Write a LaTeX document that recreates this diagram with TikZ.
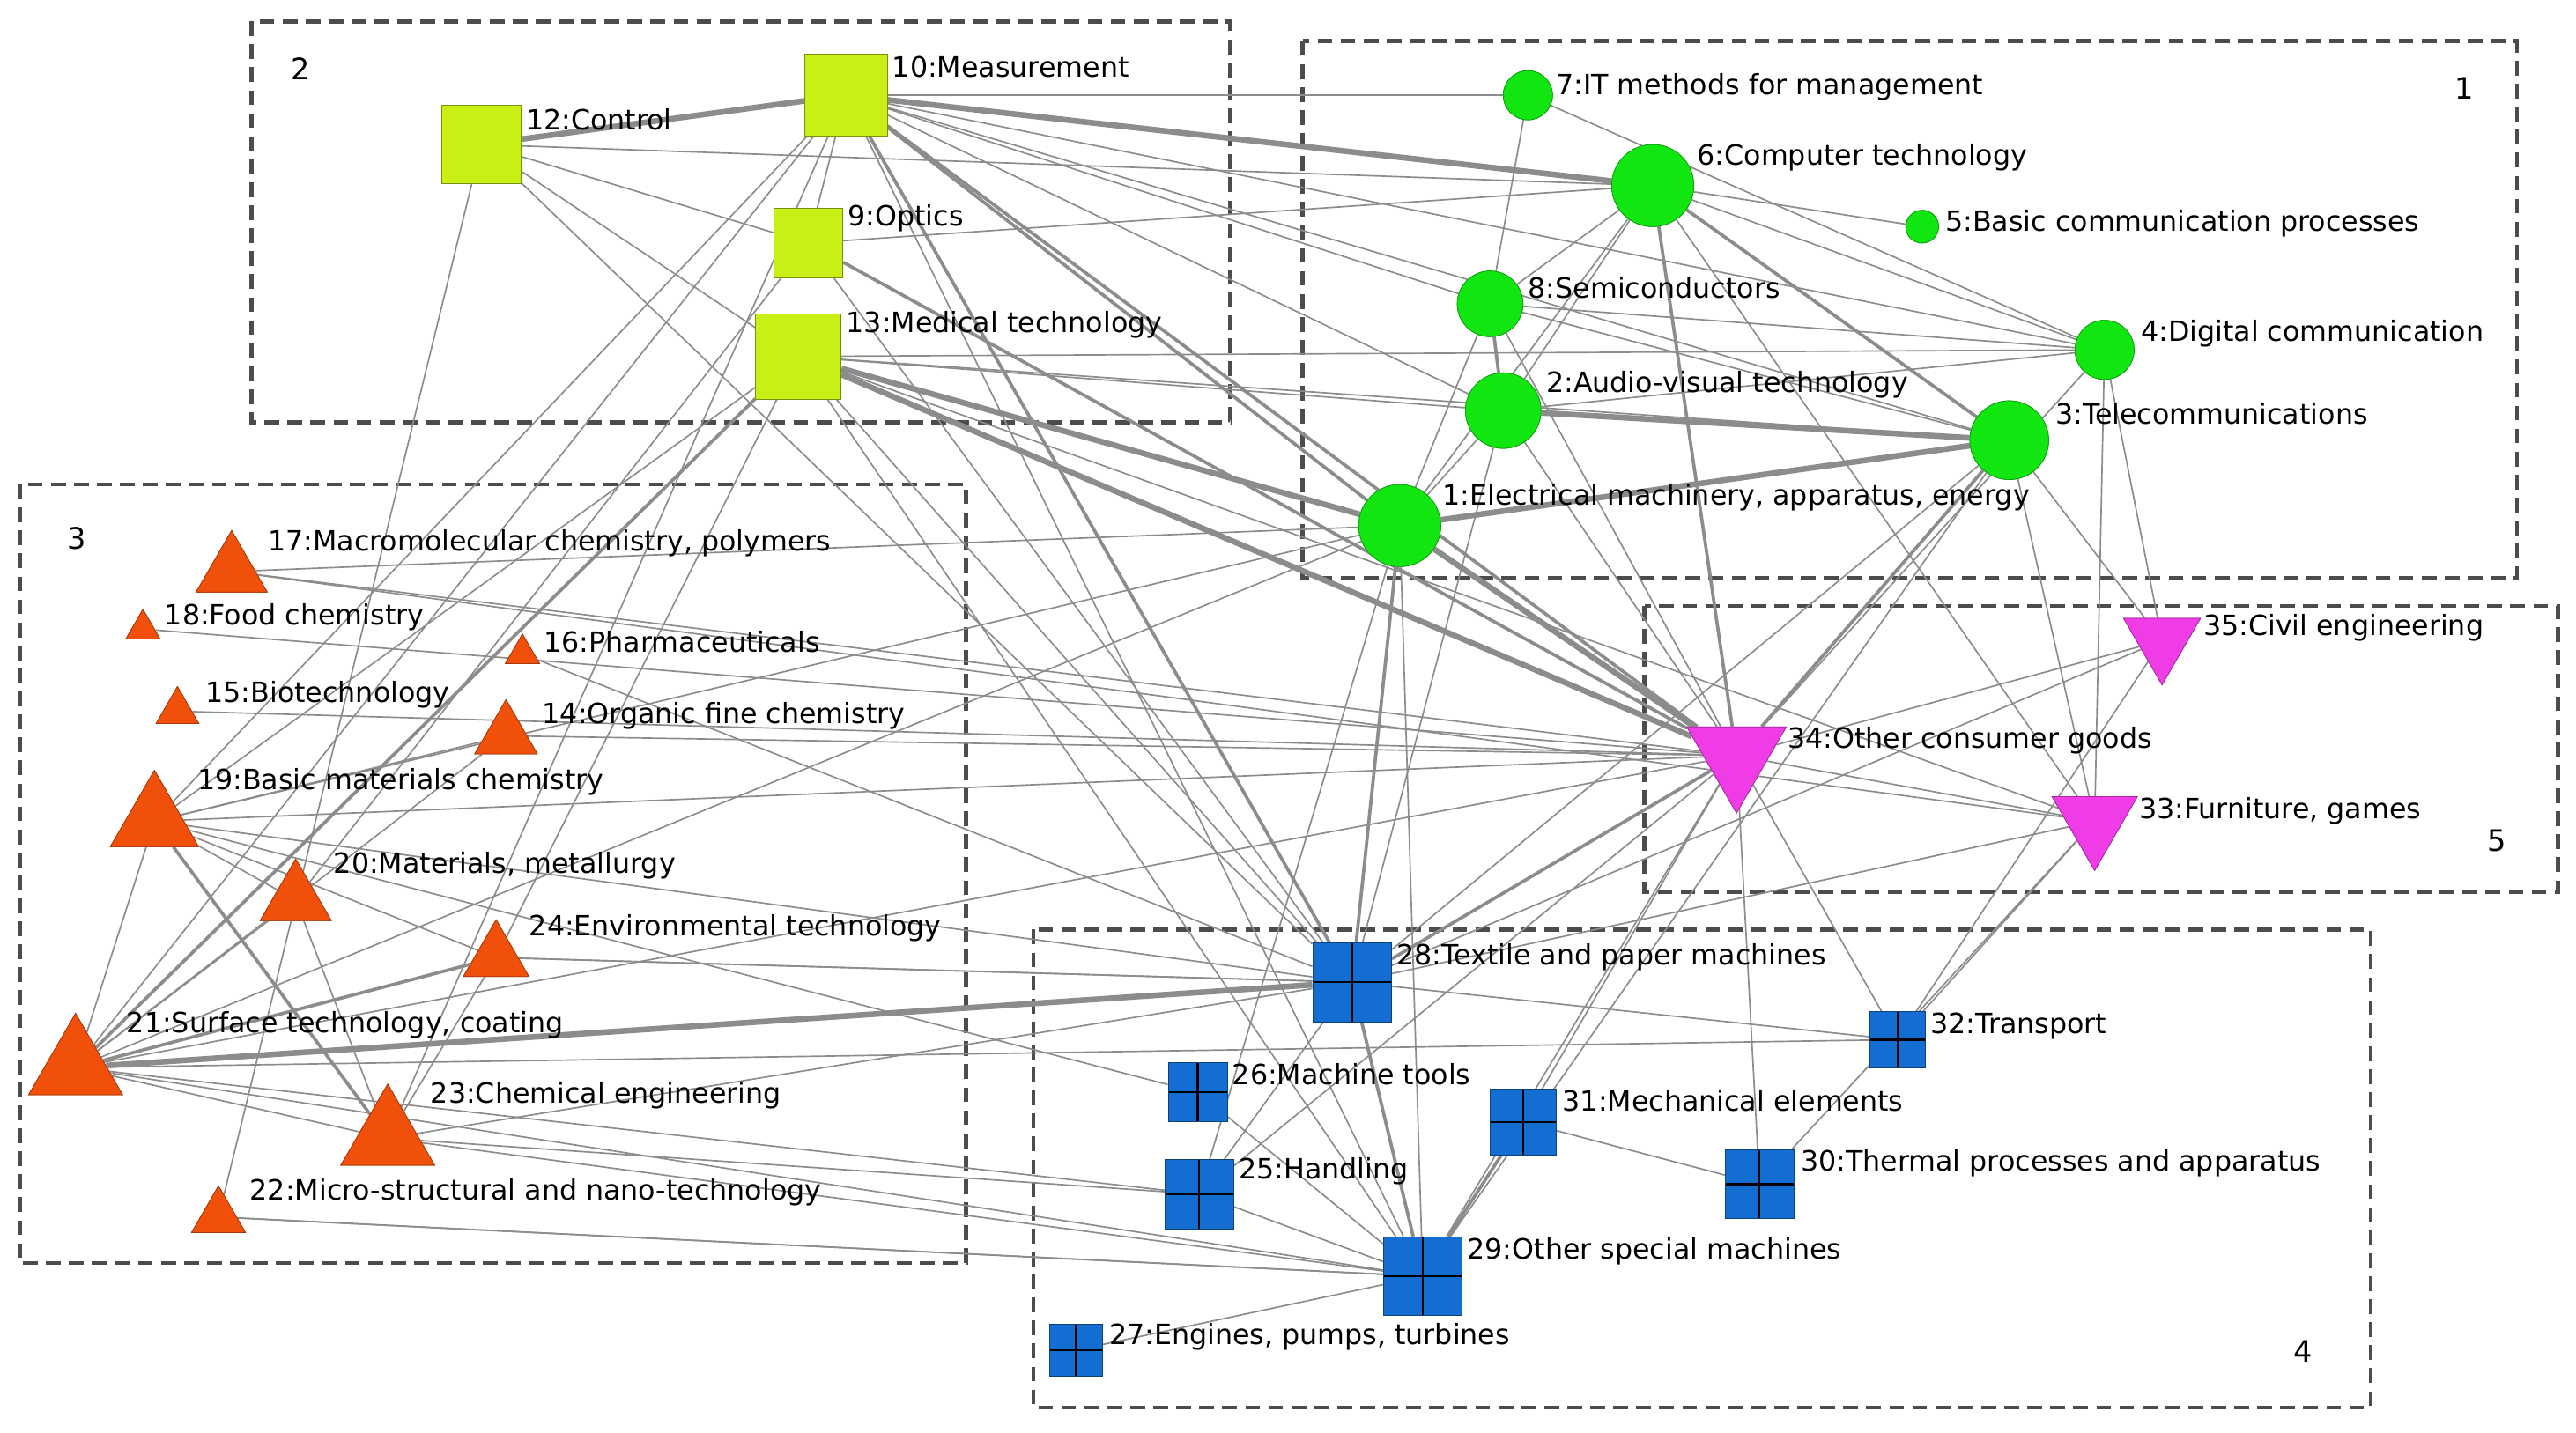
\documentclass[tikz,border=0pt]{standalone}
\usepackage{fontspec}
\setmainfont{DejaVu Sans}
\usetikzlibrary{shapes.geometric}
\definecolor{cgreen}{RGB}{17,230,17}
\definecolor{clime}{RGB}{200,240,20}
\definecolor{corange}{RGB}{240,80,10}
\definecolor{cpink}{RGB}{240,60,230}
\definecolor{cblue}{RGB}{20,110,210}
\tikzset{
  circ/.style={circle,fill=cgreen,draw=cgreen!70!black,inner sep=0pt,minimum size=#1},
  sq/.style={rectangle,fill=clime,draw=clime!60!black,inner sep=0pt,minimum size=#1},
  tri/.style={regular polygon,regular polygon sides=3,fill=corange,draw=corange!70!black,inner sep=0pt,minimum size=#1},
  itri/.style={regular polygon,regular polygon sides=3,shape border rotate=180,fill=cpink,draw=cpink!70!black,inner sep=0pt,minimum size=#1},
  bsq/.style={rectangle,fill=cblue,draw=cblue!60!black,inner sep=0pt,minimum size=#1,
    path picture={\draw[black,line width=1.2pt] (path picture bounding box.north) -- (path picture bounding box.south)
      (path picture bounding box.west) -- (path picture bounding box.east);}},
  lbl/.style={anchor=west,font=\fontsize{17}{17}\selectfont,inner sep=1pt},
  grp/.style={draw=black!70,dashed,line width=2.5pt,dash pattern=on 9pt off 5pt},
  e/.style={draw=black!45,line width=0.9pt},
  em/.style={draw=black!45,line width=2pt},
  et/.style={draw=black!45,line width=3.5pt},
}
\begin{document}
\begin{tikzpicture}[x=1pt,y=-1pt]
\useasboundingbox (0,0) rectangle (1568,872);
% groups
\draw[grp] (153,13) rectangle (749,257);
\draw[grp] (793,25) rectangle (1532,352);
\draw[grp] (12,295) rectangle (588,769);
\draw[grp] (1001,369) rectangle (1557,543);
\draw[grp] (629,566) rectangle (1443,857);
\node[font=\fontsize{18}{18}\selectfont] (g2) at (183,42) {2};
\node[font=\fontsize{18}{18}\selectfont] (g1) at (1500,54) {1};
\node[font=\fontsize{18}{18}\selectfont] (g3) at (47,328) {3};
\node[font=\fontsize{18}{18}\selectfont] (g5) at (1520,512) {5};
\node[font=\fontsize{18}{18}\selectfont] (g4) at (1402,823) {4};
% nodes
\node[circ=50pt] (n1) at (852,320) {};
\node[circ=46pt] (n2) at (915,250) {};
\node[circ=48pt] (n3) at (1223,268) {};
\node[circ=36pt] (n4) at (1281,213) {};
\node[circ=20pt] (n5) at (1170,138) {};
\node[circ=50pt] (n6) at (1006,113) {};
\node[circ=30pt] (n7) at (930,58) {};
\node[circ=40pt] (n8) at (907,185) {};
\node[sq=42pt] (n9) at (492,148) {};
\node[sq=50pt] (n10) at (515,58) {};
\node[sq=48pt] (n12) at (293,88) {};
\node[sq=52pt] (n13) at (486,217) {};
\node[tri=44pt] (n14) at (308,448) {};
\node[tri=30pt] (n15) at (108,433) {};
\node[tri=24pt] (n16) at (318,398) {};
\node[tri=50pt] (n17) at (141,348) {};
\node[tri=24pt] (n18) at (87,383) {};
\node[tri=62pt] (n19) at (94,500) {};
\node[tri=50pt] (n20) at (180,548) {};
\node[tri=46pt] (n24) at (302,583) {};
\node[tri=66pt] (n21) at (46,650) {};
\node[tri=66pt] (n23) at (236,693) {};
\node[tri=38pt] (n22) at (133,741) {};
\node[itri=54pt] (n35) at (1316,390) {};
\node[itri=70pt] (n34) at (1057,460) {};
\node[itri=60pt] (n33) at (1275,500) {};
\node[bsq=48pt] (n28) at (823,598) {};
\node[bsq=34pt] (n32) at (1155,633) {};
\node[bsq=36pt] (n26) at (729,665) {};
\node[bsq=40pt] (n31) at (927,683) {};
\node[bsq=42pt] (n25) at (730,727) {};
\node[bsq=42pt] (n30) at (1071,721) {};
\node[bsq=48pt] (n29) at (866,777) {};
\node[bsq=32pt] (n27) at (655,822) {};
% edges
\foreach \a/\b in {10/7,10/8,10/2,10/3,10/4,10/12,10/9,10/29,10/21,10/23,10/19,
  12/9,12/13,12/6,12/22,12/28,9/6,9/28,9/20,13/2,13/3,13/4,13/33,13/28,13/29,13/19,13/24,
  6/1,6/2,6/4,6/5,6/8,6/33,7/8,7/4,8/1,8/4,8/3,8/34,2/4,2/1,2/34,2/28,
  1/29,1/25,1/21,1/19,1/17,3/33,3/35,3/28,3/29,4/35,4/33,4/34,
  34/29,34/33,34/35,34/19,34/21,34/25,34/30,34/32,34/17,35/28,35/32,33/28,33/32,33/30,
  28/23,28/24,28/32,28/29,28/25,28/19,29/23,29/25,29/26,29/27,29/21,29/22,
  31/30,31/34,25/23,25/21,26/19,21/19,21/20,21/23,21/32,21/14,23/19,23/20,23/24,
  19/20,19/14,19/24,17/33,18/34,16/28,15/34,14/34,22/29,24/28}
  \draw[e] (n\a) -- (n\b);
\foreach \a/\b in {10/1,10/34,10/28,9/34,13/21,6/3,6/34,8/2,1/28,3/34,28/34,29/31,29/28,21/24,19/23}
  \draw[em] (n\a) -- (n\b);
\foreach \a/\b in {10/6,13/34,13/1,1/34,2/3,1/3,28/21,12/10}
  \draw[et] (n\a) -- (n\b);
% redraw nodes on top
\foreach \n/\s/\z in {1/circ/50,2/circ/46,3/circ/48,4/circ/36,5/circ/20,6/circ/50,7/circ/30,8/circ/40,
  9/sq/42,10/sq/50,12/sq/48,13/sq/52,14/tri/44,15/tri/30,16/tri/24,17/tri/50,18/tri/24,19/tri/62,
  20/tri/50,24/tri/46,21/tri/66,23/tri/66,22/tri/38,35/itri/54,34/itri/70,33/itri/60,
  28/bsq/48,32/bsq/34,26/bsq/36,31/bsq/40,25/bsq/42,30/bsq/42,29/bsq/48,27/bsq/32}
  \node[\s=\z pt] at (n\n) {};
% labels
\node[lbl] (l1) at (877,303) {1:Electrical machinery, apparatus, energy};
\node[lbl] (l2) at (940,234) {2:Audio-visual technology};
\node[lbl] (l3) at (1250,252) {3:Telecommunications};
\node[lbl] (l4) at (1302,203) {4:Digital communication};
\node[lbl] (l5) at (1183,136) {5:Basic communication processes};
\node[lbl] (l6) at (1032,96) {6:Computer technology};
\node[lbl] (l7) at (946,53) {7:IT methods for management};
\node[lbl] (l8) at (929,175) {8:Semiconductors};
\node[lbl] (l9) at (515,133) {9:Optics};
\node[lbl] (l10) at (542,41) {10:Measurement};
\node[lbl] (l12) at (319,73) {12:Control};
\node[lbl] (l13) at (514,198) {13:Medical technology};
\node[lbl] (l14) at (329,436) {14:Organic fine chemistry};
\node[lbl] (l15) at (124,423) {15:Biotechnology};
\node[lbl] (l16) at (330,391) {16:Pharmaceuticals};
\node[lbl] (l17) at (162,331) {17:Macromolecular chemistry, polymers};
\node[lbl] (l18) at (99,376) {18:Food chemistry};
\node[lbl] (l19) at (119,476) {19:Basic materials chemistry};
\node[lbl] (l20) at (202,527) {20:Materials, metallurgy};
\node[lbl] (l24) at (321,565) {24:Environmental technology};
\node[lbl] (l21) at (76,624) {21:Surface technology, coating};
\node[lbl] (l23) at (261,667) {23:Chemical engineering};
\node[lbl] (l22) at (151,726) {22:Micro-structural and nano-technology};
\node[lbl] (l35) at (1340,382) {35:Civil engineering};
\node[lbl] (l34) at (1087,451) {34:Other consumer goods};
\node[lbl] (l33) at (1301,494) {33:Furniture, games};
\node[lbl] (l28) at (849,583) {28:Textile and paper machines};
\node[lbl] (l32) at (1174,625) {32:Transport};
\node[lbl] (l26) at (749,654) {26:Machine tools};
\node[lbl] (l31) at (950,670) {31:Mechanical elements};
\node[lbl] (l25) at (753,713) {25:Handling};
\node[lbl] (l30) at (1095,708) {30:Thermal processes and apparatus};
\node[lbl] (l29) at (892,762) {29:Other special machines};
\node[lbl] (l27) at (674,814) {27:Engines, pumps, turbines};
\end{tikzpicture}
\end{document}
